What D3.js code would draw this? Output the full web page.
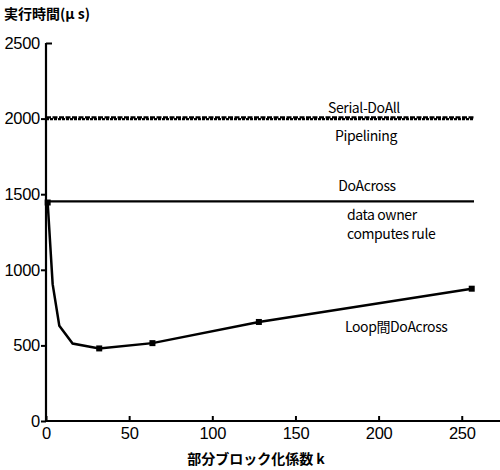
<!DOCTYPE html>
<html>
<head>
<meta charset="utf-8">
<script src="https://cdn.jsdelivr.net/npm/d3@7"></script>
<style>
  body { margin: 0; background: #fff; }
  svg { font-family: "Noto Sans CJK JP", "Noto Sans", sans-serif; }
</style>
</head>
<body>
<div id="chart"></div>
<script>
// 部分ブロック化係数 k と実行時間 (μs)
var kValues = [1, 4, 8, 16, 32, 64, 128, 256];
var loopDoAcross = [1445, 905, 630, 512, 480, 515, 655, 875];
var serialDoAll = 2008;
var pipelining = 1996;
var doAcross = 1452;
var xTicks = [0, 50, 100, 150, 200, 250];
var yTicks = [0, 500, 1000, 1500, 2000, 2500];

var width = 500, height = 470;
var svg = d3.select("#chart").append("svg")
    .attr("width", width)
    .attr("height", height);

var x = d3.scaleLinear().domain([0, 273]).range([46, 500]);
var y = d3.scaleLinear().domain([0, 2500]).range([421, 43]);

// 軸
var xAxis = svg.append("g")
    .attr("transform", `translate(0,${y(0)})`)
    .call(d3.axisBottom(x).tickValues(xTicks).tickFormat(d3.format("d")).tickSize(-5).tickPadding(6));
var yAxis = svg.append("g")
    .attr("transform", `translate(${x(0)},0)`)
    .call(d3.axisLeft(y).tickValues(yTicks).tickFormat(d3.format("d")).tickSize(5).tickPadding(1));

[xAxis, yAxis].forEach(a => {
    a.select(".domain").attr("stroke", "#000").attr("stroke-width", 2.2);
    a.selectAll(".tick line").attr("stroke", "#000").attr("stroke-width", 2);
    a.selectAll(".tick text")
        .attr("fill", "#000")
        .style("font-size", "16.5px")
        .style("letter-spacing", "-0.3px");
});
xAxis.select(".domain").attr("d", `M${x(0)},0H${width}`);
yAxis.select(".domain").attr("d", `M0,${y(2500)}V${y(0)}`);
// 2500 の目盛は右向き
yAxis.selectAll(".tick").filter(d => d === 2500).select("line").attr("x2", 6);

// 水平線
var hEnd = 474;
svg.append("line")
    .attr("x1", x(0)).attr("x2", hEnd)
    .attr("y1", y(serialDoAll)).attr("y2", y(serialDoAll))
    .attr("stroke", "#000").attr("stroke-width", 2.2)
    .attr("stroke-dasharray", "5,1.5");
svg.append("line")
    .attr("x1", x(0)).attr("x2", hEnd)
    .attr("y1", y(pipelining)).attr("y2", y(pipelining))
    .attr("stroke", "#000").attr("stroke-width", 2.2)
    .attr("stroke-dasharray", "3,1");
svg.append("line")
    .attr("x1", x(0)).attr("x2", hEnd)
    .attr("y1", y(doAcross)).attr("y2", y(doAcross))
    .attr("stroke", "#000").attr("stroke-width", 2.2);

// Loop間DoAcross
var pts = kValues.map((k, i) => [k, loopDoAcross[i]]);
svg.append("path")
    .datum(pts)
    .attr("fill", "none")
    .attr("stroke", "#000")
    .attr("stroke-width", 2.5)
    .attr("d", d3.line().x(d => x(d[0])).y(d => y(d[1])));
svg.selectAll("rect.pt")
    .data(pts.filter(d => d[0] >= 32 || d[0] === 1))
    .join("rect")
    .attr("class", "pt")
    .attr("x", d => x(d[0]) - 3)
    .attr("y", d => y(d[1]) - 3)
    .attr("width", 6).attr("height", 6)
    .attr("fill", "#000");

// ラベル
var labels = [
    {t: "Serial-DoAll", x: 364, y: 113, a: "middle"},
    {t: "Pipelining", x: 366, y: 141, a: "middle"},
    {t: "DoAcross", x: 367, y: 191, a: "middle"},
    {t: "data owner", x: 347, y: 220, a: "start"},
    {t: "computes rule", x: 347, y: 239, a: "start"},
    {t: "Loop間DoAcross", x: 345, y: 332, a: "start"}
];
svg.selectAll("text.lbl")
    .data(labels)
    .join("text")
    .attr("class", "lbl")
    .attr("x", d => d.x).attr("y", d => d.y)
    .attr("text-anchor", d => d.a)
    .style("font-size", "14px")
    .style("letter-spacing", "-0.4px")
    .text(d => d.t);

svg.append("text")
    .attr("x", 4).attr("y", 19)
    .style("font-size", "14px")
    .style("font-weight", "bold")
    .text("実行時間(μ s)");

svg.append("text")
    .attr("x", 256).attr("y", 464)
    .attr("text-anchor", "middle")
    .style("font-size", "14px")
    .style("font-weight", "bold")
    .text("部分ブロック化係数 k");
</script>
</body>
</html>
